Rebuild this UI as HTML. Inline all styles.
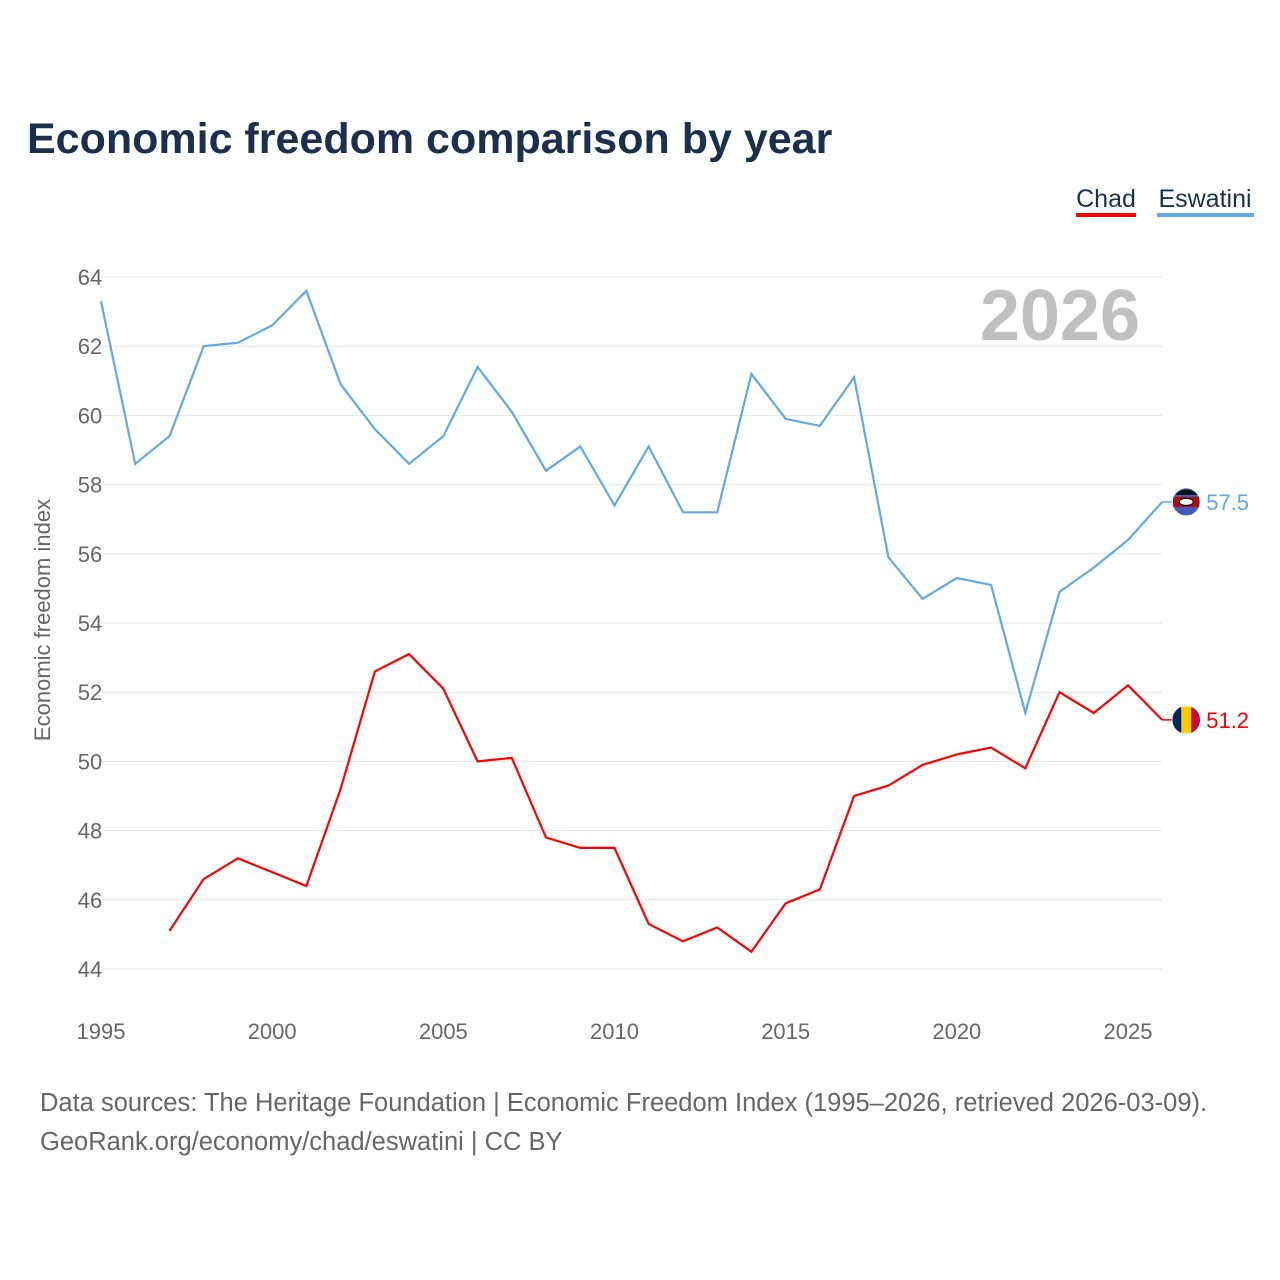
<!DOCTYPE html>
<html><head><meta charset="utf-8"><style>
body{margin:0;background:#fff;font-family:"Liberation Sans",sans-serif}
svg{display:block}
</style></head><body>
<svg id="chart" width="1280" height="1280">
<rect width="1280" height="1280" fill="#fff"/>
<text x="27" y="153" font-size="43" font-weight="bold" fill="#1c2f4d">Economic freedom comparison by year</text>
<g>
<text x="1106" y="207" font-size="25" fill="#1c2f4d" text-anchor="middle">Chad</text>
<rect x="1076" y="213" width="60" height="4" fill="#ff0000"/>
<text x="1205" y="207" font-size="25" fill="#1c2f4d" text-anchor="middle">Eswatini</text>
<rect x="1157" y="213" width="97" height="4" fill="#5fa8ea"/>
</g>
<text x="1140" y="340" font-size="72" font-weight="bold" fill="#c0c0c0" text-anchor="end">2026</text>
<g id="grid"></g><g id="axes"></g><g id="lines"></g>
<text transform="translate(50,620) rotate(-90)" font-size="22" fill="#666" text-anchor="middle">Economic freedom index</text>
<text x="40" y="1111" font-size="25.5" fill="#666">Data sources: The Heritage Foundation | Economic Freedom Index (1995–2026, retrieved 2026-03-09).</text>
<text x="40" y="1150" font-size="25.5" fill="#666">GeoRank.org/economy/chad/eswatini | CC BY</text>
</svg>
<script>
const years=[1995,1996,1997,1998,1999,2000,2001,2002,2003,2004,2005,2006,2007,2008,2009,2010,2011,2012,2013,2014,2015,2016,2017,2018,2019,2020,2021,2022,2023,2024,2025,2026];
const eswatini=[63.3,58.6,59.4,62.0,62.1,62.6,63.6,60.9,59.6,58.6,59.4,61.4,60.1,58.4,59.1,57.4,59.1,57.2,57.2,61.2,59.9,59.7,61.1,55.9,54.7,55.3,55.1,51.4,54.9,55.6,56.4,57.5];
const chad=[null,null,45.1,46.6,47.2,46.8,46.4,49.2,52.6,53.1,52.1,50.0,50.1,47.8,47.5,47.5,45.3,44.8,45.2,44.5,45.9,46.3,49.0,49.3,49.9,50.2,50.4,49.8,52.0,51.4,52.2,51.2];
const yTicks=[44,46,48,50,52,54,56,58,60,62,64];
const xTicks=[1995,2000,2005,2010,2015,2020,2025];
const NS="http://www.w3.org/2000/svg";
const X=y=>101+(y-1995)*(1128-101)/30;
const Y=v=>969-(v-44)*(969-277)/20;
function mk(t,a,p){const e=document.createElementNS(NS,t);for(const k in a)e.setAttribute(k,a[k]);p.appendChild(e);return e;}
const grid=document.getElementById('grid'),axes=document.getElementById('axes'),lines=document.getElementById('lines');
yTicks.forEach(v=>{
 const l=mk('line',{x1:101,x2:1162,y1:Y(v),y2:Y(v),stroke:'#e6e6e6','stroke-width':1},grid);
 
 
 const t=mk('text',{x:90,y:Y(v)+8,'font-size':22,fill:'#666','text-anchor':'middle'},axes);
 
 
 t.textContent=v;
});
xTicks.forEach(v=>{
 const t=mk('text',{x:X(v),y:1039,'font-size':22,fill:'#666','text-anchor':'middle'},axes);
 
 
 t.textContent=v;
});
function series(vals,color,name,label){
 let d='';vals.forEach((v,i)=>{if(v==null)return;d+=(d?'L':'M')+X(years[i]).toFixed(1)+','+Y(v).toFixed(1);});
 const p=mk('path',{d:d,fill:'none',stroke:color,'stroke-width':2.2},lines);
 
 
 const last=vals[vals.length-1],lx=X(years[years.length-1]),ly=Y(last);
 mk('line',{x1:lx,x2:lx+12,y1:ly,y2:ly,stroke:color,'stroke-width':1.5},lines);
 const c=mk('circle',{cx:lx+24,cy:ly,r:14,fill:name==='chad'?'#fecb00':'#3e5eb9',stroke:'#fff','stroke-width':1},lines);
 
 
 if(name==='chad'){mk('path',{d:`M${lx+24-5},${ly-13}A14,14 0 0,0 ${lx+24-5},${ly+13}Z`,fill:'#002664'},lines);mk('path',{d:`M${lx+24+5},${ly-13}A14,14 0 0,1 ${lx+24+5},${ly+13}Z`,fill:'#c60c30'},lines);}
 else{mk('rect',{x:lx+11,y:ly-5,width:26,height:10,fill:'#b10c0c'},lines);mk('ellipse',{cx:lx+24,cy:ly,rx:7,ry:3.5,fill:'#fff',stroke:'#000'},lines);mk('path',{d:`M${lx+13},${ly-7}A14,14 0 0,1 ${lx+35},${ly-7}Z`,fill:'#111'},lines);}
 const t=mk('text',{x:lx+44,y:ly+8,'font-size':22,fill:color},lines);
 
 
 t.textContent=label;
}
series(eswatini,'#5fa8ea','eswatini',eswatini[eswatini.length-1].toFixed(1));
series(chad,'#ff0000','chad',chad[chad.length-1].toFixed(1));
</script>
</body></html>
